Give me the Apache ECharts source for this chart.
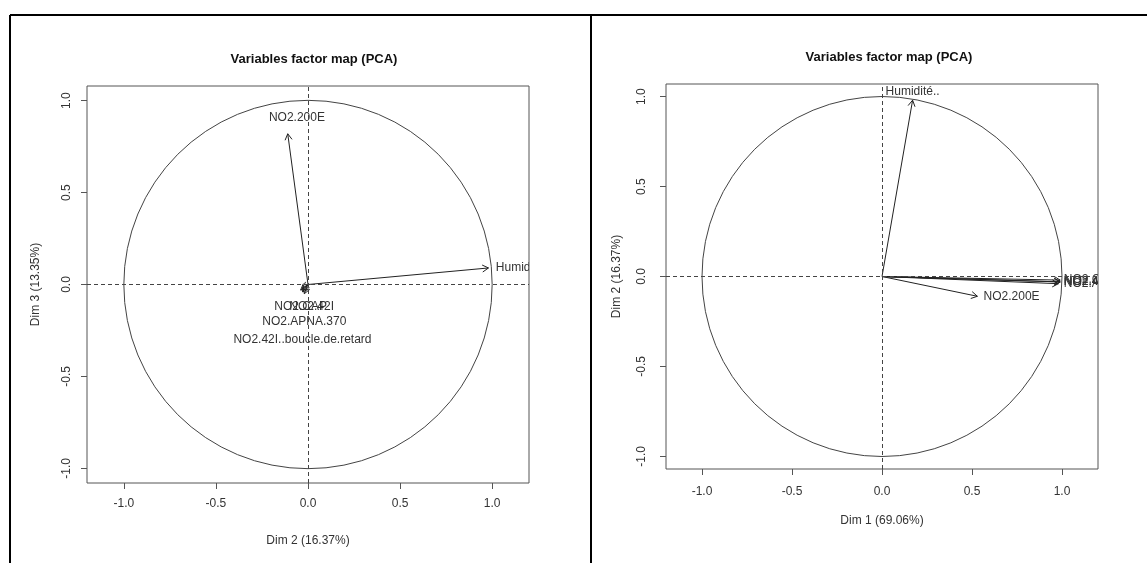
<!DOCTYPE html>
<html>
<head>
<meta charset="utf-8">
<script src="https://cdn.jsdelivr.net/npm/echarts@6/dist/echarts.min.js"></script>
<style>
html,body{margin:0;padding:0;background:#fff;}
#chart{width:1147px;height:563px;}
</style>
</head>
<body>
<div id="chart"></div>
<script>
// Variables and their coordinates on the PCA dimensions
const variables = ["NO2.CAP", "NO2.42I", "NO2.APNA.370", "NO2.42I..boucle.de.retard", "NO2.200E", "Humidité.."];
const dim1 = [0.99, 0.99, 0.98, 0.99, 0.53, 0.17];
const dim2 = [-0.02, -0.03, -0.04, -0.03, -0.11, 0.98];
const dim3 = [-0.05, -0.04, -0.03, -0.02, 0.82, 0.09];

// Label anchors (data units)
const labelLeftX = [-0.04, 0.02, -0.02, -0.03, -0.06, 1.02];
const labelLeftY = [-0.12, -0.12, -0.20, -0.30, 0.91, 0.09];
const labelLeftSide = ["c", "c", "c", "c", "c", "r"];
const labelRightX = [1.01, 1.01, 1.01, 1.01, 0.72, 0.17];
const labelRightY = [-0.02, -0.03, -0.04, -0.03, -0.11, 1.03];
const labelRightSide = ["r", "r", "r", "r", "c", "c"];

const tickValues = [-1, -0.5, 0, 0.5, 1];
const chartTitle = "Variables factor map (PCA)";
const xNames = ["Dim 2 (16.37%)", "Dim 1 (69.06%)"];
const yNames = ["Dim 3 (13.35%)", "Dim 2 (16.37%)"];

const FONT = "Liberation Sans, Arial, sans-serif";
const chart = echarts.init(document.getElementById('chart'));

function makeArrowRender(sides) {
  return function (params, api) {
    const x = api.value(0), y = api.value(1);
    const p0 = api.coord([0, 0]);
    const p1 = api.coord([x, y]);
    const ang = Math.atan2(p1[1] - p0[1], p1[0] - p0[0]);
    const L = 7, a = Math.PI / 6;
    const h1 = [p1[0] - L * Math.cos(ang - a), p1[1] - L * Math.sin(ang - a)];
    const h2 = [p1[0] - L * Math.cos(ang + a), p1[1] - L * Math.sin(ang + a)];
    const lp = api.coord([api.value(2), api.value(3)]);
    const side = sides[params.dataIndex];
    return {
      type: 'group',
      children: [
        { type: 'line', shape: { x1: p0[0], y1: p0[1], x2: p1[0], y2: p1[1] }, style: { stroke: '#222', lineWidth: 1 } },
        { type: 'polyline', shape: { points: [h1, p1, h2] }, style: { stroke: '#222', fill: null, lineWidth: 1 } },
        { type: 'text', x: lp[0], y: lp[1], style: {
            text: variables[params.dataIndex], align: side === 'r' ? 'left' : 'center', verticalAlign: 'middle',
            font: '12px ' + FONT, fill: '#333' } }
      ]
    };
  };
}

function circleRender(params, api) {
  const c = api.coord([api.value(0), api.value(1)]);
  const s = api.size([api.value(2), api.value(2)]);
  return { type: 'circle', shape: { cx: c[0], cy: c[1], r: s[0] }, style: { fill: null, stroke: '#444', lineWidth: 1 } };
}

function xAxisCfg(gi, name, labelMargin, gap) {
  return {
    gridIndex: gi, type: 'value', min: -1.2, max: 1.2, position: 'bottom',
    name: name, nameLocation: 'middle', nameGap: gap,
    nameTextStyle: { fontFamily: FONT, fontSize: 12, color: '#333' },
    axisLine: { show: false, onZero: false }, splitLine: { show: false },
    axisTick: { show: true, length: 6, customValues: tickValues, lineStyle: { color: '#555' } },
    axisLabel: { customValues: tickValues, margin: labelMargin, fontFamily: FONT, fontSize: 12, color: '#333',
      formatter: v => v.toFixed(1) }
  };
}
function yAxisCfg(gi, name, ymax, labelMargin, gap) {
  return {
    gridIndex: gi, type: 'value', min: -ymax, max: ymax, position: 'left',
    name: name, nameLocation: 'middle', nameGap: gap, nameRotate: 90,
    nameTextStyle: { fontFamily: FONT, fontSize: 12, color: '#333' },
    axisLine: { show: false, onZero: false }, splitLine: { show: false },
    axisTick: { show: true, length: 6, customValues: tickValues, lineStyle: { color: '#555' } },
    axisLabel: { customValues: tickValues, rotate: 90, margin: labelMargin, fontFamily: FONT, fontSize: 12, color: '#333',
      formatter: v => v.toFixed(1) }
  };
}

const refLines = {
  silent: true, symbol: 'none', label: { show: false },
  lineStyle: { type: [4, 3], color: '#444', width: 1 },
  data: [{ xAxis: 0 }, { yAxis: 0 }]
};

const leftData = variables.map((v, i) => [dim2[i], dim3[i], labelLeftX[i], labelLeftY[i]]);
const rightData = variables.map((v, i) => [dim1[i], dim2[i], labelRightX[i], labelRightY[i]]);

chart.setOption({
  animation: false,
  backgroundColor: '#fff',
  title: [
    { text: chartTitle, left: 309, top: 48, textAlign: 'center', textStyle: { fontFamily: FONT, fontSize: 13, fontWeight: 'bold', color: '#111' } },
    { text: chartTitle, left: 884, top: 46, textAlign: 'center', textStyle: { fontFamily: FONT, fontSize: 13, fontWeight: 'bold', color: '#111' } }
  ],
  grid: [
    { left: 87, top: 86, width: 442, height: 397, show: true, borderColor: '#555', borderWidth: 1, backgroundColor: 'transparent' },
    { left: 666, top: 84, width: 432, height: 385, show: true, borderColor: '#555', borderWidth: 1, backgroundColor: 'transparent' }
  ],
  xAxis: [xAxisCfg(0, xNames[0], 15, 52), xAxisCfg(1, xNames[1], 17, 46)],
  yAxis: [yAxisCfg(0, yNames[0], 1.08, 14, 45), yAxisCfg(1, yNames[1], 1.07, 18, 43)],
  series: [
    { type: 'custom', xAxisIndex: 0, yAxisIndex: 0, data: [[0, 0, 1]], renderItem: circleRender, clip: true, silent: true, markLine: refLines },
    { type: 'custom', xAxisIndex: 0, yAxisIndex: 0, data: leftData, renderItem: makeArrowRender(labelLeftSide), clip: true, silent: true },
    { type: 'custom', xAxisIndex: 1, yAxisIndex: 1, data: [[0, 0, 1]], renderItem: circleRender, clip: true, silent: true, markLine: refLines },
    { type: 'custom', xAxisIndex: 1, yAxisIndex: 1, data: rightData, renderItem: makeArrowRender(labelRightSide), clip: true, silent: true }
  ],
  graphic: [
    { type: 'line', shape: { x1: 10, y1: 15, x2: 1147, y2: 15 }, style: { stroke: '#000', lineWidth: 2 } },
    { type: 'line', shape: { x1: 10, y1: 15, x2: 10, y2: 563 }, style: { stroke: '#000', lineWidth: 2 } },
    { type: 'line', shape: { x1: 591, y1: 15, x2: 591, y2: 563 }, style: { stroke: '#000', lineWidth: 2 } }
  ]
});
</script>
</body>
</html>
